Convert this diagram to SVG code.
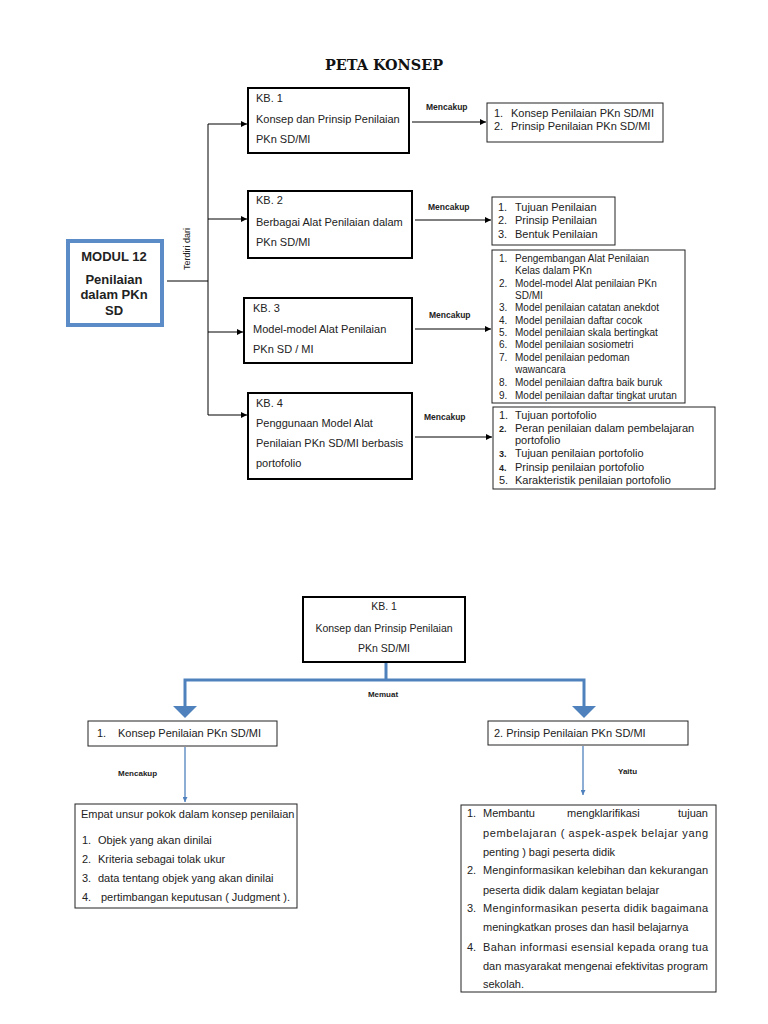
<svg xmlns="http://www.w3.org/2000/svg" width="768" height="1024" viewBox="0 0 768 1024">
<style>
text{font-family:"Liberation Sans",Arial,sans-serif;fill:#222;}
.t11{font-size:11px;}
.t10{font-size:10px;}
.lbl{font-size:8.5px;font-weight:bold;}
.box{fill:#fff;stroke:#000;stroke-width:2;}
.lst{fill:#fff;stroke:#222;stroke-width:1;}
.ln{stroke:#000;stroke-width:1;fill:none;}
.bl{stroke:#4f81bd;stroke-width:3;fill:none;}
.bt{stroke:#4f81bd;stroke-width:1.3;fill:none;}
</style>
<defs>
<marker id="ah" viewBox="0 0 10 10" refX="10" refY="5" markerWidth="6" markerHeight="6" markerUnits="userSpaceOnUse" orient="auto"><path d="M0,0L10,5L0,10z" fill="#000"/></marker>
<marker id="ahb" viewBox="0 0 10 10" refX="10" refY="5" markerWidth="5" markerHeight="5" markerUnits="userSpaceOnUse" orient="auto"><path d="M0,0L10,5L0,10z" fill="#4f81bd"/></marker>
</defs>
<rect width="768" height="1024" fill="#fff"/>
<text x="384" y="70" text-anchor="middle" textLength="118" lengthAdjust="spacingAndGlyphs" style="font-family:'DejaVu Serif',serif;font-size:15px;font-weight:bold;fill:#111">PETA KONSEP</text>

<g id="connectors">
<path class="ln" d="M167,281H208"/>
<path class="ln" d="M208,124V415"/>
<path class="ln" d="M208,124H247" marker-end="url(#ah)"/>
<path class="ln" d="M208,219H247" marker-end="url(#ah)"/>
<path class="ln" d="M208,332H243" marker-end="url(#ah)"/>
<path class="ln" d="M208,415H247" marker-end="url(#ah)"/>
<path class="ln" d="M412,122H486" marker-end="url(#ah)"/>
<path class="ln" d="M415,220H491" marker-end="url(#ah)"/>
<path class="ln" d="M415,329H491" marker-end="url(#ah)"/>
<path class="ln" d="M415,437H492" marker-end="url(#ah)"/>
<text x="190" y="249" transform="rotate(-90 190 249)" text-anchor="middle" style="font-size:9px">Terdiri dari</text>
<text x="426" y="110" class="lbl">Mencakup</text>
<text x="428" y="210" class="lbl">Mencakup</text>
<text x="429" y="318" class="lbl">Mencakup</text>
<text x="424" y="420" class="lbl">Mencakup</text>
<path class="bl" d="M386,662V680M185,707V680H584V707"/>
<path d="M173,706H197L185,718z" fill="#4f81bd"/>
<path d="M572,706H596L584,718z" fill="#4f81bd"/>
<text x="383" y="697" text-anchor="middle" class="lbl" style="font-size:8px">Memuat</text>
<path class="bt" d="M185,747V802" marker-end="url(#ahb)"/>
<path class="bt" d="M583,746V795" marker-end="url(#ahb)"/>
<text x="118" y="776" class="lbl" style="font-size:8px">Mencakup</text>
<text x="618" y="774" class="lbl" style="font-size:8px">Yaitu</text>
</g>

<g id="modul">
<rect x="68" y="241" width="94" height="84" fill="#fff" stroke="#5b8cc8" stroke-width="4"/>
<text x="114" y="261" text-anchor="middle" style="font-size:13px;font-weight:bold">MODUL 12</text>
<text x="114" y="284" text-anchor="middle" style="font-size:13px;font-weight:bold">Penilaian</text>
<text x="114" y="299" text-anchor="middle" style="font-size:13px;font-weight:bold">dalam PKn</text>
<text x="114" y="315" text-anchor="middle" style="font-size:13px;font-weight:bold">SD</text>
</g>

<g id="kb1">
<rect class="box" x="248" y="88" width="161" height="65"/>
<text class="t11" x="256" y="102">KB. 1</text>
<text class="t11" x="256" y="123">Konsep dan Prinsip Penilaian</text>
<text class="t11" x="256" y="143">PKn SD/MI</text>
</g>
<g id="kb2">
<rect class="box" x="248" y="191" width="164" height="67"/>
<text class="t11" x="256" y="204">KB. 2</text>
<text class="t11" x="256" y="226">Berbagai Alat Penilaian dalam</text>
<text class="t11" x="256" y="246">PKn SD/MI</text>
</g>
<g id="kb3">
<rect class="box" x="244" y="298" width="168" height="65"/>
<text class="t11" x="253" y="312">KB. 3</text>
<text class="t11" x="253" y="333">Model-model Alat Penilaian</text>
<text class="t11" x="253" y="353">PKn SD / MI</text>
</g>
<g id="kb4">
<rect class="box" x="248" y="393" width="164" height="86"/>
<text class="t11" x="256" y="407">KB. 4</text>
<text class="t11" x="256" y="427">Penggunaan Model Alat</text>
<text class="t11" x="256" y="447">Penilaian PKn SD/MI berbasis</text>
<text class="t11" x="256" y="467">portofolio</text>
</g>

<g id="list1">
<rect class="lst" x="487" y="103" width="176" height="39"/>
<text class="t11" x="494" y="117">1.</text><text class="t11" x="511" y="117">Konsep Penilaian PKn SD/MI</text>
<text class="t11" x="494" y="130">2.</text><text class="t11" x="511" y="130">Prinsip Penilaian PKn SD/MI</text>
</g>
<g id="list2">
<rect class="lst" x="492" y="197" width="123" height="48"/>
<text class="t11" x="498" y="211">1.</text><text class="t11" x="515" y="211">Tujuan Penilaian</text>
<text class="t11" x="498" y="224">2.</text><text class="t11" x="515" y="224">Prinsip Penilaian</text>
<text class="t11" x="498" y="238">3.</text><text class="t11" x="515" y="238">Bentuk Penilaian</text>
</g>
<g id="list3">
<rect class="lst" x="492" y="250" width="193" height="153"/>
<text class="t10" x="499" y="262">1.</text><text class="t10" x="515" y="262">Pengembangan Alat Penilaian</text>
<text class="t10" x="515" y="274">Kelas dalam PKn</text>
<text class="t10" x="499" y="287">2.</text><text class="t10" x="515" y="287">Model-model Alat penilaian  PKn</text>
<text class="t10" x="515" y="299">SD/MI</text>
<text class="t10" x="499" y="311">3.</text><text class="t10" x="515" y="311">Model penilaian catatan anekdot</text>
<text class="t10" x="499" y="324">4.</text><text class="t10" x="515" y="324">Model penilaian daftar cocok</text>
<text class="t10" x="499" y="336">5.</text><text class="t10" x="515" y="336">Model penilaian skala bertingkat</text>
<text class="t10" x="499" y="348">6.</text><text class="t10" x="515" y="348">Model penilaian sosiometri</text>
<text class="t10" x="499" y="361">7.</text><text class="t10" x="515" y="361">Model penilaian pedoman</text>
<text class="t10" x="515" y="373">wawancara</text>
<text class="t10" x="499" y="386">8.</text><text class="t10" x="515" y="386">Model penilaian daftra baik buruk</text>
<text class="t10" x="499" y="399">9.</text><text class="t10" x="515" y="399">Model penilaian daftar tingkat urutan</text>
</g>
<g id="list4">
<rect class="lst" x="493" y="407" width="222" height="82"/>
<text class="t11" x="499" y="419">1.</text><text class="t11" x="515" y="419">Tujuan portofolio</text>
<text x="499" y="432" style="font-size:9px;font-weight:bold">2.</text><text class="t11" x="515" y="432">Peran penilaian dalam pembelajaran</text>
<text class="t11" x="515" y="444">portofolio</text>
<text x="499" y="457" style="font-size:9px;font-weight:bold">3.</text><text class="t11" x="515" y="457">Tujuan penilaian portofolio</text>
<text x="499" y="471" style="font-size:9px;font-weight:bold">4.</text><text class="t11" x="515" y="471">Prinsip penilaian portofolio</text>
<text class="t11" x="499" y="484">5.</text><text class="t11" x="515" y="484">Karakteristik penilaian portofolio</text>
</g>

<g id="b-kb1">
<rect class="box" x="303" y="597" width="162" height="65"/>
<text x="384" y="610" text-anchor="middle" style="font-size:10.5px">KB. 1</text>
<text x="384" y="632" text-anchor="middle" style="font-size:10.5px">Konsep dan Prinsip Penilaian</text>
<text x="384" y="652" text-anchor="middle" style="font-size:10.5px">PKn SD/MI</text>
</g>
<g id="b-konsep">
<rect class="lst" x="88" y="721" width="189" height="25"/>
<text class="t11" x="97" y="737">1.</text><text class="t11" x="118" y="737">Konsep Penilaian PKn SD/MI</text>
</g>
<g id="b-prinsip">
<rect class="lst" x="488" y="721" width="200" height="24"/>
<text class="t11" x="494" y="737">2. Prinsip Penilaian PKn SD/MI</text>
</g>
<g id="b-unsur">
<rect class="lst" x="75" y="804" width="222" height="104"/>
<text class="t11" x="81" y="818">Empat unsur pokok dalam konsep penilaian</text>
<text class="t11" x="82" y="844">1.</text><text class="t11" x="98" y="844">Objek yang akan dinilai</text>
<text class="t11" x="82" y="863">2.</text><text class="t11" x="98" y="863">Kriteria sebagai tolak ukur</text>
<text class="t11" x="82" y="882">3.</text><text class="t11" x="98" y="882">data tentang objek yang akan dinilai</text>
<text class="t11" x="82" y="901">4.</text><text class="t11" x="101" y="901">pertimbangan keputusan ( Judgment ).</text>
</g>
<g id="b-yaitu">
<rect class="lst" x="461" y="805" width="255" height="187"/>
<text class="t11" x="467" y="817">1.</text>
<text class="t11" x="483" y="817">Membantu</text>
<text class="t11" x="567" y="817">mengklarifikasi</text>
<text class="t11" x="708" y="817" text-anchor="end">tujuan</text>
<text class="t11" x="483" y="837" textLength="225" lengthAdjust="spacing">pembelajaran ( aspek-aspek belajar yang</text>
<text class="t11" x="483" y="856">penting ) bagi peserta didik</text>
<text class="t11" x="467" y="874">2.</text>
<text class="t11" x="483" y="874" textLength="225" lengthAdjust="spacing">Menginformasikan kelebihan dan kekurangan</text>
<text class="t11" x="483" y="894">peserta didik dalam kegiatan belajar</text>
<text class="t11" x="467" y="912">3.</text>
<text class="t11" x="483" y="912" textLength="225" lengthAdjust="spacing">Menginformasikan peserta didik bagaimana</text>
<text class="t11" x="483" y="931">meningkatkan proses dan hasil belajarnya</text>
<text class="t11" x="467" y="951">4.</text>
<text class="t11" x="483" y="951" textLength="225" lengthAdjust="spacing">Bahan informasi esensial kepada orang tua</text>
<text class="t11" x="483" y="970" textLength="225" lengthAdjust="spacing">dan masyarakat mengenai efektivitas program</text>
<text class="t11" x="483" y="988">sekolah.</text>
</g>
</svg>
